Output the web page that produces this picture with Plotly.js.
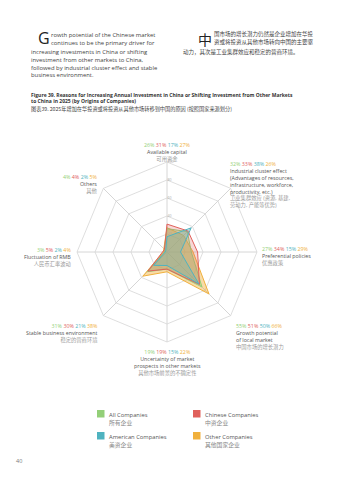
<!DOCTYPE html>
<html><head><meta charset="utf-8">
<script src="https://cdn.plot.ly/plotly-3.0.1.min.js"></script>
<style>html,body{margin:0;padding:0;background:#fff}#c{width:359px;height:480px}</style>
</head><body><div id="c"></div>
<script>
// ---- data ----
const categories = ["Available capital","Industrial cluster effect","Preferential policies","Growth potential of local market","Uncertainty of market prospects in other markets","Stable business environment","Fluctuation of RMB","Others"];
const labelEn = ["Available capital","Industrial cluster effect<br>(Advantages of resources,<br>infrastructure, workforce,<br>productivity, etc.)","Preferential policies","Growth potential<br>of local market","Uncertainty of market<br>prospects in other markets","Stable business environment","Fluctuation of RMB","Others"];
const labelZh = ["可用资金","工业集群效应 (资源, 基建,<br>劳动力, 产能等优势)","优惠政策","中国市场的增长潜力","其他市场前景的不确定性","稳定的营商环境","人民币汇率波动","其他"];
const allCompanies      = [26,32,27,55,19,31,3,4];
const chineseCompanies  = [31,33,34,51,19,30,5,4];
const americanCompanies = [17,38,15,50,15,21,2,2];
const otherCompanies    = [27,26,29,66,22,38,4,5];
const seriesNames = ["All Companies","Chinese Companies","American Companies","Other Companies"];
const seriesNamesZh = ["所有企业","中资企业","美资企业","其他国家企业"];
const radialTicks = [0,20,40,60,80,100];

// ---- styles ----
const colors = ["#93cf78","#e0605b","#4fb3c0","#f0b03c"];
const fills  = ["rgba(147,207,120,0.45)","rgba(224,96,91,0.25)","rgba(79,179,192,0.25)","rgba(240,176,60,0.45)"];
const FONT = "Open Sans, Noto Sans CJK SC, sans-serif";
const W = 359, H = 480;
const px = x => x / W, py = y => 1 - y / H;

const seriesData = [allCompanies, chineseCompanies, americanCompanies, otherCompanies];
const order = [3,0,1,2];
const traces = order.map(i => ({
  type: "scatterpolar",
  r: seriesData[i].concat([seriesData[i][0]]),
  theta: categories.concat([categories[0]]),
  fill: "toself",
  fillcolor: fills[i],
  line: {color: colors[i], width: 1},
  mode: "lines",
  name: seriesNames[i],
  hoverinfo: "skip"
}));

const annotations = [];
const shapes = [];
function txt(x, y, text, opt) {
  annotations.push(Object.assign({
    x: px(x), y: py(y), xref: "paper", yref: "paper", text: text,
    showarrow: false, xanchor: "left", yanchor: "middle",
    font: {family: FONT, size: 5.9, color: "#444"}
  }, opt || {}));
}

// paragraph left
txt(36, 38, "G", {font: {family: FONT, size: 16, color: "#222"}});
const leftLines = ["rowth potential of the Chinese market","continues to be the primary driver for","increasing investments in China or shifting","investment from other markets to China,","followed by industrial cluster effect and stable","business environment."];
const leftPos = [[49,35],[49,43],[29,52],[29,60],[29,68],[29,75]];
leftLines.forEach((l, i) => txt(leftPos[i][0], leftPos[i][1], l));
// paragraph right
txt(196, 39, "中", {font: {family: "Noto Sans CJK SC", size: 14, color: "#222"}});
const rightLines = ["国市场的增长潜力仍然是企业增加在华投","资或将投资从其他市场转向中国的主要驱","动力，其次是工业集群效应和稳定的营商环境。"];
const rightPos = [[212,34],[212,42],[181,52]];
rightLines.forEach((l, i) => txt(rightPos[i][0], rightPos[i][1], l, {font: {family: "Noto Sans CJK SC", size: 5.5, color: "#444"}}));

// figure title
txt(29, 95, "Figure 39. Reasons for Increasing Annual Investment in China or Shifting Investment from Other Markets", {font: {family: FONT, size: 5, color: "#333", weight: "bold"}});
txt(29, 101, "to China in 2025 (by Origins of Companies)", {font: {family: FONT, size: 5, color: "#333", weight: "bold"}});
txt(29, 109, "图表39. 2025年增加在华投资或将投资从其他市场转移到中国的原因 (按照国家来源划分)", {font: {family: "Noto Sans CJK SC", size: 5.2, color: "#444"}});

// category labels
const labelPos = [
  {x:167, y:139, xa:"center"},
  {x:228, y:158, xa:"left"},
  {x:260, y:243, xa:"left"},
  {x:234, y:320, xa:"left"},
  {x:167, y:346, xa:"center"},
  {x:100, y:320, xa:"right"},
  {x:73,  y:244, xa:"right"},
  {x:100, y:171, xa:"right"}
];
categories.forEach((c, k) => {
  const pct = seriesData.map((s, i) => `<span style="color:${colors[i]}">${s[k]}%</span>`).join(" ");
  const zh = labelZh[k].split("<br>").map(z => `<span style="color:#9a9a9a">${z}</span>`).join("<br>");
  const p = labelPos[k];
  txt(p.x, p.y, pct + "<br>" + labelEn[k] + "<br>" + zh, {
    xanchor: p.xa, yanchor: "top", align: p.xa,
    font: {family: FONT + ", Noto Sans CJK SC", size: 5.3, color: "#555"}
  });
});

// legend
const legPos = [[97,410],[193,410],[97,432],[193,432]];
seriesNames.forEach((n, i) => {
  const [lx, ly] = legPos[i];
  shapes.push({type: "rect", xref: "paper", yref: "paper", x0: px(lx), x1: px(lx + 7.5), y0: py(ly + 7.5), y1: py(ly), fillcolor: colors[i], line: {width: 0}});
  txt(lx + 10, ly - 1.5, n + "<br><span style='color:#888'>" + seriesNamesZh[i] + "</span>", {
    yanchor: "top", align: "left",
    font: {family: FONT + ", Noto Sans CJK SC", size: 5.8, color: "#555"}
  });
});

// page number
txt(14, 461, "40", {font: {family: FONT, size: 5.5, color: "#777"}});

const layout = {
  width: W, height: H,
  margin: {l: 0, r: 0, t: 0, b: 0},
  paper_bgcolor: "#fff",
  showlegend: false,
  polar: {
    domain: {x: [px(77), px(257)], y: [py(342), py(162)]},
    bgcolor: "rgba(0,0,0,0)",
    gridshape: "linear",
    angularaxis: {direction: "clockwise", rotation: 90, showticklabels: false, ticks: "", linecolor: "#d6d6d6", gridcolor: "#d6d6d6", linewidth: 0.8},
    radialaxis: {range: [0, 100], tickvals: radialTicks, angle: 90, tickangle: 90, showline: false, ticks: "", tickfont: {family: FONT, size: 3.5, color: "#aaa"}, gridcolor: "#d6d6d6", gridwidth: 0.8}
  },
  annotations: annotations,
  shapes: shapes
};
Plotly.newPlot("c", traces, layout, {staticPlot: true, displayModeBar: false});
</script>
</body></html>
